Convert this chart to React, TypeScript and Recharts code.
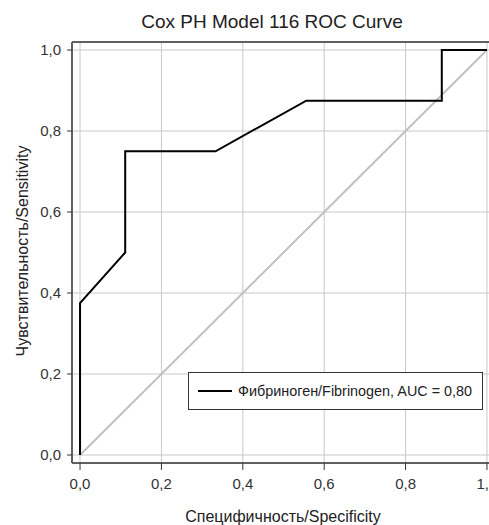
import React from "react";
import { LineChart, Line, XAxis, YAxis, CartesianGrid, ReferenceLine } from "recharts";

const rocX = [0, 0, 0.111, 0.111, 0.333, 0.556, 0.889, 0.889, 1];
const rocY = [0, 0.375, 0.5, 0.75, 0.75, 0.875, 0.875, 1, 1];
const diagX = [0, 1];
const diagY = [0, 1];
const ticks = [0, 0.2, 0.4, 0.6, 0.8, 1];

const title = "Cox PH Model 116 ROC Curve";
const xLabel = "Специфичность/Specificity";
const yLabel = "Чувствительность/Sensitivity";
const legendLabel = "Фибриноген/Fibrinogen, AUC = 0,80";

const rocData = rocX.map((x, i) => ({ x, y: rocY[i] }));
const diagData = diagX.map((x, i) => ({ x, y: diagY[i] }));

const PAD = 8 / 405;
const DOMAIN: [number, number] = [-PAD, 1 + PAD];
const FONT = "'Liberation Sans', Arial, sans-serif";
const fmt = (v: number) => v.toFixed(1).replace(".", ",");

export default function App() {
  return (
    <div style={{ position: "absolute", left: 0, top: 0, width: 489, height: 525, overflow: "hidden", background: "#fff", fontFamily: FONT }}>
      <LineChart width={500} height={525} margin={{ top: 42, right: 5, bottom: 12, left: 0 }}>
        <CartesianGrid stroke="#c8c8c8" strokeWidth={1} />
        <XAxis
          type="number"
          dataKey="x"
          domain={DOMAIN}
          ticks={ticks}
          allowDataOverflow
          tickFormatter={fmt}
          height={50}
          tickSize={7}
          tickMargin={8}
          axisLine={{ stroke: "#606060", strokeWidth: 2 }}
          tickLine={{ stroke: "#333" }}
          tick={{ fill: "#333", fontSize: 15, fontFamily: FONT }}
        />
        <YAxis
          type="number"
          dataKey="y"
          domain={DOMAIN}
          ticks={ticks}
          allowDataOverflow
          tickFormatter={fmt}
          width={72}
          tickSize={5}
          tickMargin={6}
          axisLine={{ stroke: "#606060", strokeWidth: 2 }}
          tickLine={{ stroke: "#333" }}
          tick={{ fill: "#333", fontSize: 15, fontFamily: FONT }}
        />
        <ReferenceLine y={1 + PAD} stroke="#606060" strokeWidth={2} />
        <Line data={diagData} dataKey="y" type="linear" stroke="#c0c0c0" strokeWidth={2} dot={false} isAnimationActive={false} />
        <Line data={rocData} dataKey="y" type="linear" stroke="#000" strokeWidth={2} dot={false} isAnimationActive={false} />
      </LineChart>
      <svg width={489} height={525} style={{ position: "absolute", left: 0, top: 0, pointerEvents: "none" }}>
        <text x={272} y={28} textAnchor="middle" fontSize={19} fill="#222" fontFamily={FONT}>{title}</text>
        <text x={283} y={522} textAnchor="middle" fontSize={16} fill="#222" fontFamily={FONT}>{xLabel}</text>
        <text transform="translate(28,251) rotate(-90)" textAnchor="middle" fontSize={16} fill="#222" fontFamily={FONT}>{yLabel}</text>
      </svg>
      <div style={{ position: "absolute", left: 188, top: 372, width: 293, height: 36, border: "1px solid #333", background: "#fff", display: "flex", alignItems: "center" }}>
        <div style={{ marginLeft: 9, width: 34, height: 2, background: "#000" }} />
        <span style={{ marginLeft: 6, fontSize: 14.4, color: "#222", fontFamily: FONT, whiteSpace: "nowrap" }}>{legendLabel}</span>
      </div>
    </div>
  );
}
